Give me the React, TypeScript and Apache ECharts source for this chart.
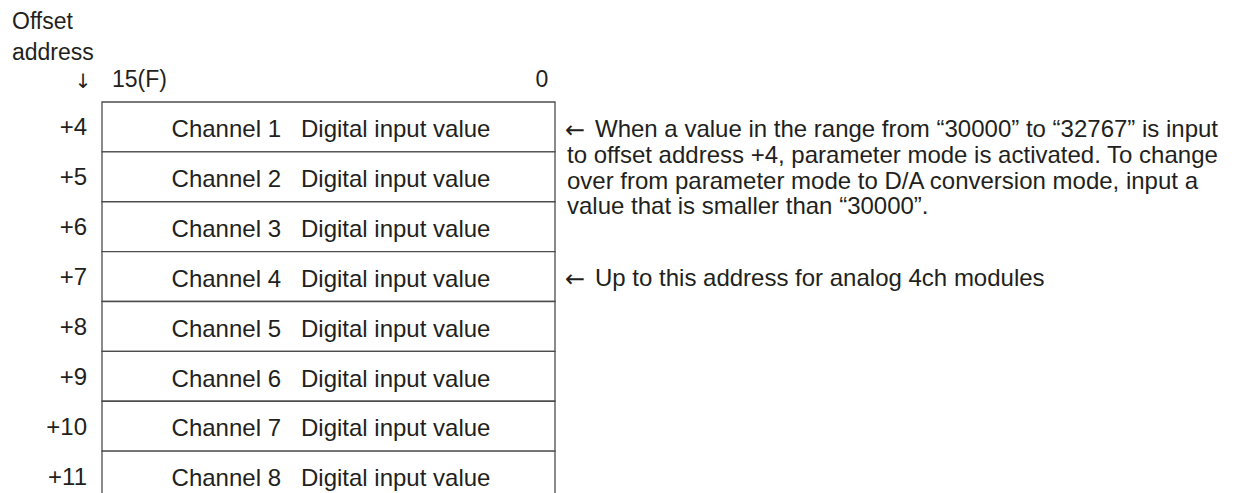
import React, { useEffect, useRef } from "react";
import * as echarts from "echarts";

// ---- data ----
const offsetLabels = ["+4", "+5", "+6", "+7", "+8", "+9", "+10", "+11"];
const channelLabels = [
  "Channel 1\u00a0\u00a0 Digital input value",
  "Channel 2\u00a0\u00a0 Digital input value",
  "Channel 3\u00a0\u00a0 Digital input value",
  "Channel 4\u00a0\u00a0 Digital input value",
  "Channel 5\u00a0\u00a0 Digital input value",
  "Channel 6\u00a0\u00a0 Digital input value",
  "Channel 7\u00a0\u00a0 Digital input value",
  "Channel 8\u00a0\u00a0 Digital input value",
];
const headerLines = ["Offset", "address"];
const bitHigh = "15(F)";
const bitLow = "0";
const note1Lines = [
  "When a value in the range from \u201c30000\u201d to \u201c32767\u201d is input",
  "to offset address +4, parameter mode is activated. To change",
  "over from parameter mode to D/A conversion mode, input a",
  "value that is smaller than \u201c30000\u201d.",
];
const note2 = "Up to this address for analog 4ch modules";

const FONT = "'Liberation Sans', Arial, Helvetica, sans-serif";
const ARROW_FONT = "'DejaVu Sans', sans-serif";
const TXT = "#231f20";
const LINE = "#4d4d4d";

export default function App() {
  const ref = useRef<HTMLDivElement>(null);
  useEffect(() => {
    if (!ref.current) return;
    const chart = echarts.init(ref.current, null, { renderer: "svg" });
    const fs = 24;
    const txt = (
      x: number,
      baseline: number,
      text: string,
      align: string = "left",
      size: number = fs,
      family: string = FONT
    ) => ({
      type: "text",
      x,
      y: baseline - 0.3465 * size,
      silent: true,
      style: {
        text,
        fill: TXT,
        font: `${size}px ${family}`,
        align,
        verticalAlign: "middle",
      },
    });
    const hs = 23;
    const graphics: any[] = [];
    headerLines.forEach((t, i) => graphics.push(txt(12, 29 + i * 31, t, "left", hs)));
    graphics.push(txt(83, 88, "\u2193", "center", 20, ARROW_FONT));
    graphics.push(txt(112, 87, bitHigh, "left", hs));
    graphics.push(txt(542, 87, bitLow, "center", hs));
    graphics.push(txt(565, 138, "\u2190", "left", 24, ARROW_FONT));
    note1Lines.forEach((t, i) => graphics.push(txt(i === 0 ? 595 : 567, 137 + i * 25.7, t, "left")));
    graphics.push(txt(565, 287, "\u2190", "left", 24, ARROW_FONT));
    graphics.push(txt(595, 286, note2, "left"));

    chart.setOption({
      animation: false,
      backgroundColor: "#ffffff",
      grid: {
        left: 102,
        top: 102,
        width: 453,
        height: 399,
        containLabel: false,
        outerBoundsMode: "none",
      },
      xAxis: {
        type: "value",
        min: 0,
        max: 1,
        show: false,
      },
      yAxis: {
        type: "category",
        inverse: true,
        data: offsetLabels,
        axisLine: { show: false },
        axisTick: { show: false },
        splitLine: { show: false },
        axisLabel: {
          margin: 15,
          fontSize: fs,
          fontFamily: FONT,
          color: TXT,
          padding: [8, 0, 0, 0],
        },
      },
      series: [
        {
          type: "custom",
          clip: false,
          encode: { x: 0, y: 1 },
          data: channelLabels.map((_, i) => [1, i]),
          renderItem: (params: any, api: any) => {
            const idx = api.value(1);
            const p0 = api.coord([0, idx]);
            const p1 = api.coord([1, idx]);
            const band = api.size([1, 1])[1];
            return {
              type: "group",
              children: [
                {
                  type: "rect",
                  shape: { x: p0[0], y: p0[1] - band / 2, width: p1[0] - p0[0], height: band },
                  style: { fill: "#ffffff", stroke: LINE, lineWidth: 1.3 },
                },
                {
                  type: "text",
                  x: (p0[0] + p1[0]) / 2 + 2.5,
                  y: p0[1] + 1.7,
                  style: {
                    text: channelLabels[idx],
                    fill: TXT,
                    font: `${fs}px ${FONT}`,
                    align: "center",
                    verticalAlign: "middle",
                  },
                },
              ],
            };
          },
        },
      ],
      graphic: graphics,
    });
    return () => chart.dispose();
  }, []);
  return (
    <div
      ref={ref}
      style={{ position: "fixed", left: 0, top: 0, width: 1244, height: 493, background: "#fff" }}
    />
  );
}
